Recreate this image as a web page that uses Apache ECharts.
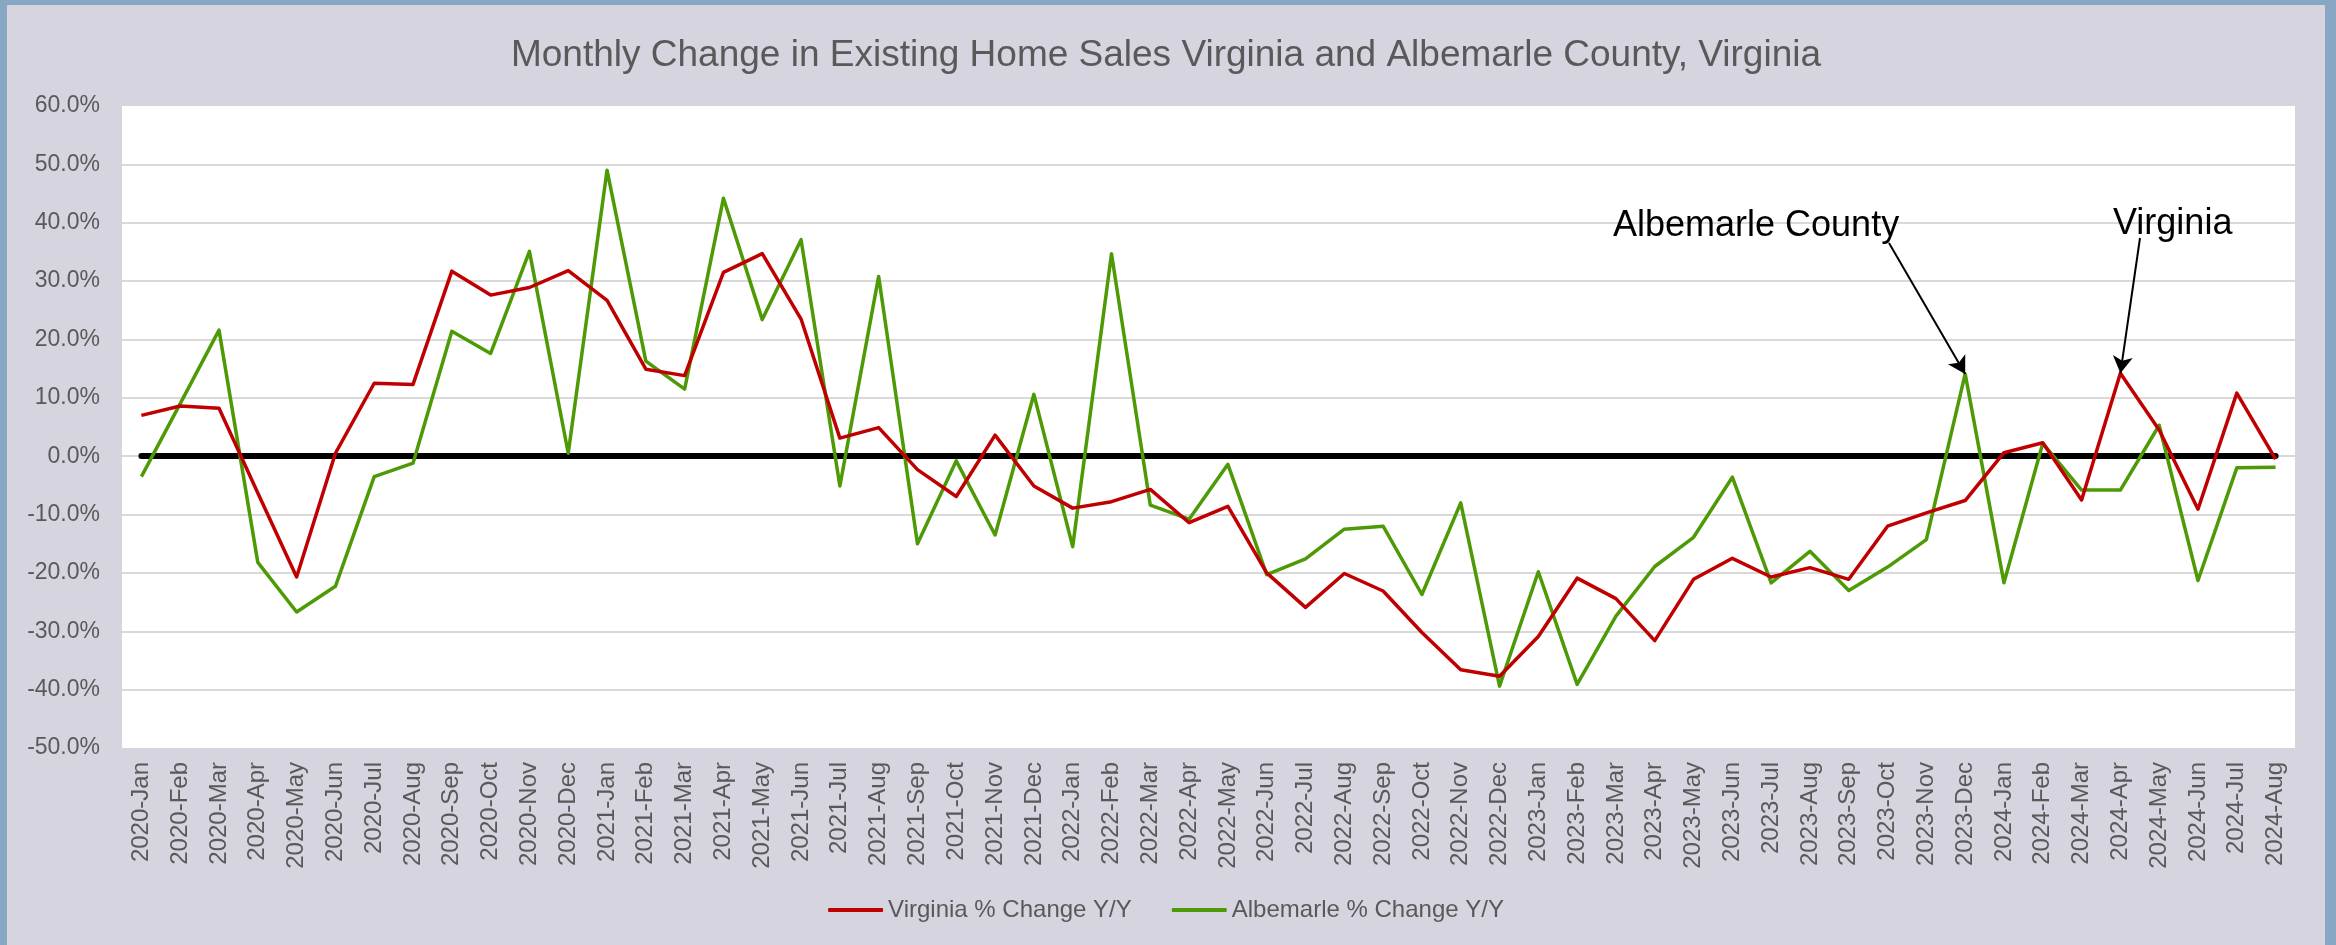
<!DOCTYPE html>
<html>
<head>
<meta charset="utf-8">
<script src="https://cdn.jsdelivr.net/npm/echarts@6/dist/echarts.min.js"></script>
<style>
  html, body { margin: 0; padding: 0; background: #87a7c4; }
  #chart { position: absolute; left: 7px; top: 5px; width: 2318px; height: 940px; }
</style>
</head>
<body>
<div id="chart"></div>
<script>
const months = [
  "2020-Jan", "2020-Feb", "2020-Mar", "2020-Apr", "2020-May", "2020-Jun", "2020-Jul", "2020-Aug", "2020-Sep", "2020-Oct", "2020-Nov", "2020-Dec",
  "2021-Jan", "2021-Feb", "2021-Mar", "2021-Apr", "2021-May", "2021-Jun", "2021-Jul", "2021-Aug", "2021-Sep", "2021-Oct", "2021-Nov", "2021-Dec",
  "2022-Jan", "2022-Feb", "2022-Mar", "2022-Apr", "2022-May", "2022-Jun", "2022-Jul", "2022-Aug", "2022-Sep", "2022-Oct", "2022-Nov", "2022-Dec",
  "2023-Jan", "2023-Feb", "2023-Mar", "2023-Apr", "2023-May", "2023-Jun", "2023-Jul", "2023-Aug", "2023-Sep", "2023-Oct", "2023-Nov", "2023-Dec",
  "2024-Jan", "2024-Feb", "2024-Mar", "2024-Apr", "2024-May", "2024-Jun", "2024-Jul", "2024-Aug"
];

// % change Y/Y
const virginia = [
  7.0, 8.6, 8.2, -6.3, -20.7, 0.5, 12.5, 12.3, 31.7, 27.6, 28.9, 31.8,
  26.7, 14.9, 13.8, 31.5, 34.7, 23.5, 3.1, 4.9, -2.3, -6.9, 3.6, -5.1,
  -8.9, -7.8, -5.7, -11.4, -8.6, -20.0, -25.9, -20.1, -23.1, -30.2, -36.6, -37.7,
  -30.9, -20.9, -24.4, -31.6, -21.1, -17.5, -20.7, -19.1, -21.1, -12.0, -9.7, -7.6,
  0.6, 2.3, -7.5, 14.2, 4.5, -9.1, 10.8, -0.5
];
const albemarle = [
  -3.5, 9.0, 21.6, -18.2, -26.7, -22.3, -3.5, -1.2, 21.4, 17.6, 35.1, 0.5,
  49.0, 16.3, 11.5, 44.2, 23.4, 37.1, -5.1, 30.8, -15.0, -0.8, -13.5, 10.6,
  -15.5, 34.7, -8.4, -10.8, -1.4, -20.3, -17.6, -12.5, -12.0, -23.7, -8.0, -39.4,
  -19.8, -39.1, -27.4, -18.9, -13.9, -3.6, -21.7, -16.3, -23.0, -19.0, -14.3, 14.1,
  -21.7, 2.2, -5.8, -5.8, 5.3, -21.3, -2.0, -1.9
];

const yTicks = { min: -50, max: 60, step: 10 };
// which points the call-outs point at
const albemarleCallout = "2023-Dec";
const virginiaCallout = "2024-Apr";

const fontFamily = "'Liberation Sans', Arial, sans-serif";
const labelColor = "#595959";

let chart = echarts.init(document.getElementById("chart"));

let option = {
  backgroundColor: "#d5d4df",
  animation: false,
  title: {
    text: "Monthly Change in Existing Home Sales Virginia and Albemarle County, Virginia",
    left: "center",
    top: 27,
    textStyle: { color: labelColor, fontSize: 37, fontWeight: "normal", fontFamily }
  },
  legend: {
    left: "center",
    top: 888,
    icon: "roundRect",
    itemWidth: 55,
    itemHeight: 4,
    itemGap: 40,
    textStyle: { color: labelColor, fontSize: 24, fontFamily }
  },
  grid: {
    left: 115,
    right: 30,
    top: 101,
    bottom: 197,
    show: true,
    backgroundColor: "#ffffff",
    borderWidth: 0,
    containLabel: false
  },
  xAxis: {
    type: "category",
    data: months,
    boundaryGap: true,
    axisLine: { show: false },
    axisTick: { show: false },
    axisLabel: {
      rotate: 90,
      interval: 0,
      margin: 14,
      color: labelColor,
      fontSize: 24,
      fontFamily
    },
    splitLine: { show: false }
  },
  yAxis: {
    type: "value",
    min: yTicks.min,
    max: yTicks.max,
    interval: yTicks.step,
    axisLine: { show: false },
    axisTick: { show: false },
    axisLabel: {
      margin: 22,
      color: labelColor,
      fontSize: 23,
      fontFamily,
      formatter: v => v.toFixed(1) + "%"
    },
    splitLine: {
      show: true,
      showMinLine: false,
      showMaxLine: false,
      lineStyle: { color: "#d9d9d9", width: 2 }
    }
  },
  series: [
    {
      name: "Virginia % Change Y/Y",
      type: "line",
      data: virginia,
      symbol: "none",
      color: "#c00000",
      lineStyle: { width: 3.5, join: "round" },
      z: 3,
      markLine: {
        silent: true,
        z: 1,
        symbol: "none",
        label: { show: false },
        lineStyle: { color: "#000", width: 6, type: "solid", cap: "round" },
        data: [[{ coord: [months[0], 0] }, { coord: [months[months.length - 1], 0] }]]
      }
    },
    {
      name: "Albemarle % Change Y/Y",
      type: "line",
      data: albemarle,
      symbol: "none",
      color: "#4e9a06",
      lineStyle: { width: 3.5, join: "round" },
      z: 2,
      markLine: {
        silent: true,
        z: 6,
        symbol: ["none", "arrow"],
        symbolSize: [15, 17],
        label: { show: false },
        lineStyle: { color: "#000", width: 2, type: "solid" },
        data: [
          [{ x: 1882, y: 238 }, { coord: [albemarleCallout, albemarle[months.indexOf(albemarleCallout)]] }],
          [{ x: 2133, y: 233 }, { coord: [virginiaCallout, virginia[months.indexOf(virginiaCallout)]] }]
        ]
      }
    }
  ],
  graphic: [
    {
      type: "text",
      left: 1606,
      top: 203,
      z: 100,
      style: { text: "Albemarle County", fill: "#000", font: "36px " + fontFamily }
    },
    {
      type: "text",
      left: 2106,
      top: 201,
      z: 100,
      style: { text: "Virginia", fill: "#000", font: "36px " + fontFamily }
    }
  ]
};

chart.setOption(option);
window.addEventListener("resize", () => {
  chart.resize();
});
</script>
</body>
</html>
